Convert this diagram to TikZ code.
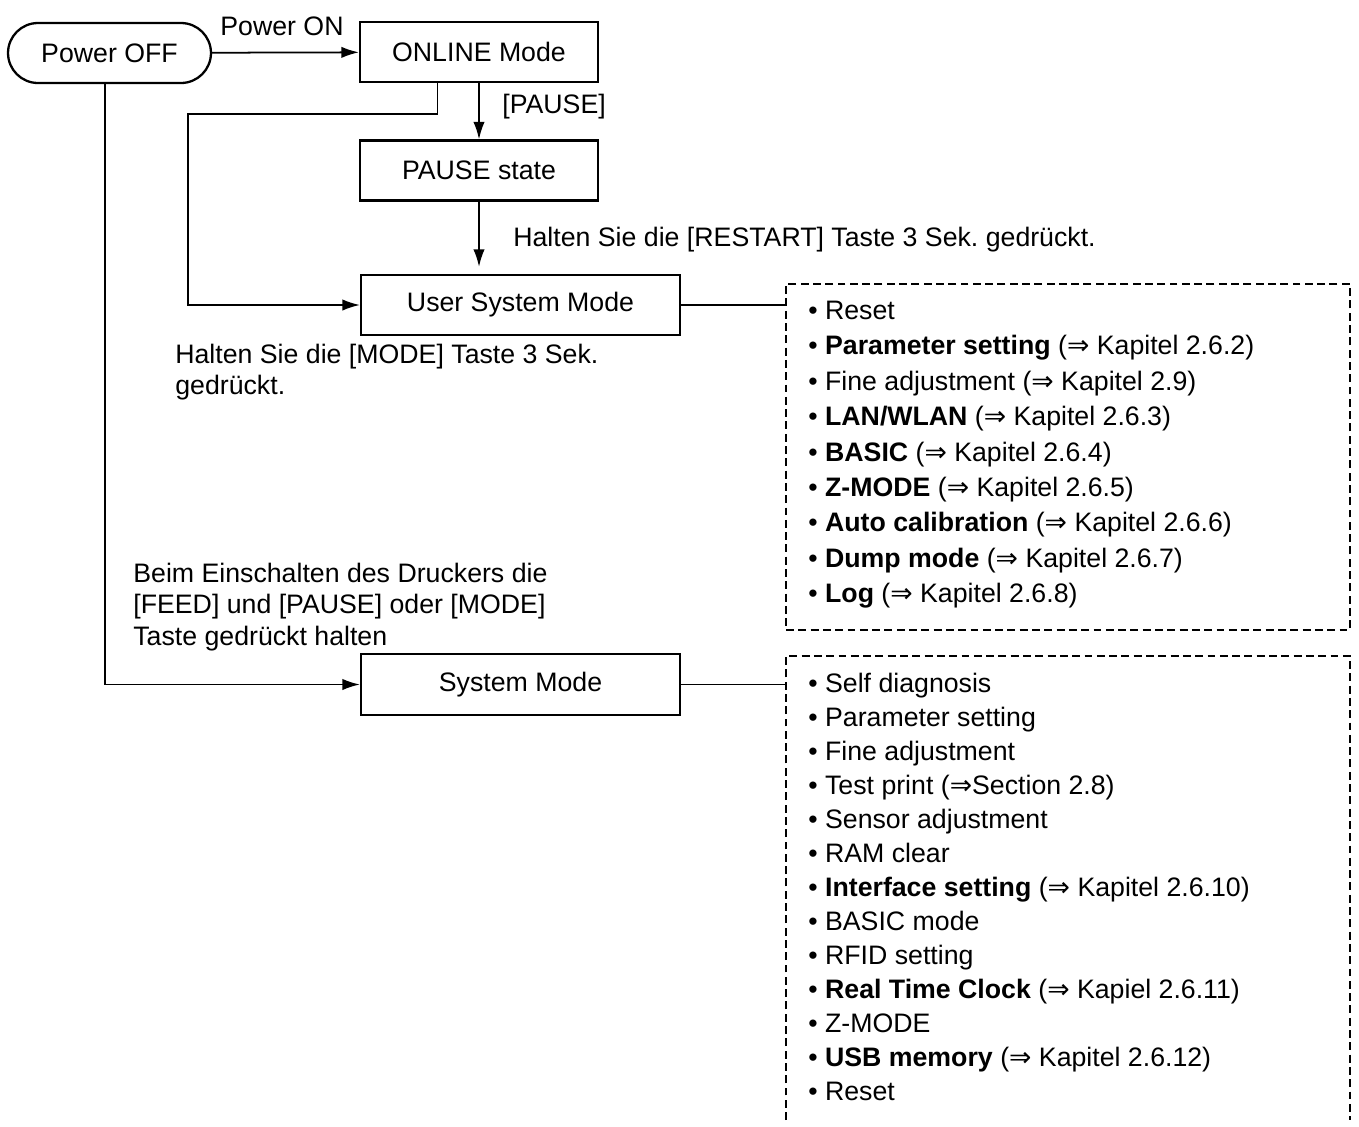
\documentclass[tikz,border=0pt]{standalone}
\usepackage{fontspec}
\setmainfont{Liberation Sans}
\newfontfamily\symfont{DejaVu Sans}
\newcommand{\imp}{{\symfont ⇒}}
\frenchspacing
\usepackage{tikz}
\usetikzlibrary{arrows.meta, positioning}

\begin{document}
\begin{tikzpicture}[
  x=0.02cm, y=-0.02cm,
  every node/.style={font=\fontsize{15.2}{18}\selectfont},
  modebox/.style={draw, line width=1.3pt, minimum height=1.2cm, inner sep=0pt},
  conn/.style={line width=1pt},
  arr/.style={conn, -{Latex[length=10pt, width=6.5pt]}},
  listbox/.style={draw, line width=0.9pt, dash pattern=on 4.5pt off 2.5pt},
  txt/.style={anchor=west, inner sep=0pt, align=left},
  entry/.style={anchor=base west, inner sep=0pt},
]
\useasboundingbox (0,0) rectangle (1359,1126);

% Mode boxes
\node[modebox, rounded corners=0.6cm, minimum width=4.06cm] (off) at (109.5,53) {Power OFF};
\node[modebox, minimum width=4.76cm] (online) at (479,52) {ONLINE Mode};
\node[modebox, minimum width=4.76cm] (pause) at (479,170.5) {PAUSE state};
\node[modebox, minimum width=6.38cm] (user) at (520.5,305) {User System Mode};
\node[modebox, minimum width=6.38cm, minimum height=1.22cm] (sys) at (520.5,684.5) {System Mode};

% Transitions
\draw[arr] (off) -- (online);
\draw[arr] (online) -- (pause);
\draw[arr, shorten >=4pt] (pause.south) -- (pause.south |- user.north);
\draw[arr] ([xshift=-0.83cm]online.south) |- (188,114) |- (user.west);
\draw[arr] ([xshift=-0.09cm]off.south) |- (sys.west);

% Key labels
\node[inner sep=0pt] (lon) at (282,26) {Power ON};
\node[txt] (lpause) at (502,107) {[PAUSE]};
\node[txt] (lrestart) at (513,240) {Halten Sie die [RESTART] Taste 3 Sek. gedr\"uckt.};
\node[txt] (lmode) at (175,372) {Halten Sie die [MODE] Taste 3 Sek.\\gedr\"uckt.};
\node[txt] (lfeed) at (133,607) {Beim Einschalten des Druckers die\\{[FEED]} und [PAUSE] oder [MODE]\\Taste gedr\"uckt halten};

% User system mode menu
\node[listbox, minimum width=11.28cm, minimum height=6.92cm] (udash) at (1068,457) {};
\draw[conn] (user.east) -- (user.east -| udash.west);
\foreach \item [count=\i] in {
  {Reset},
  {\textbf{Parameter setting} (\imp\ Kapitel 2.6.2)},
  {Fine adjustment (\imp\ Kapitel 2.9)},
  {\textbf{LAN/WLAN} (\imp\ Kapitel 2.6.3)},
  {\textbf{BASIC} (\imp\ Kapitel 2.6.4)},
  {\textbf{Z-MODE} (\imp\ Kapitel 2.6.5)},
  {\textbf{Auto calibration} (\imp\ Kapitel 2.6.6)},
  {\textbf{Dump mode} (\imp\ Kapitel 2.6.7)},
  {\textbf{Log} (\imp\ Kapitel 2.6.8)}}
  \node[entry] (u\i) at (808,{319.5+35.4*(\i-1)}) {\textbullet\ \item};

% System mode menu (open at the bottom)
\coordinate (sdash) at (786,686);
\draw[listbox] (786,1120) |- (1350,656) -- (1350,1120);
\draw[conn] (sys.east) -- (sys.east -| sdash);
\foreach \item [count=\i] in {
  {Self diagnosis},
  {Parameter setting},
  {Fine adjustment},
  {Test print (\imp Section 2.8)},
  {Sensor adjustment},
  {RAM clear},
  {\textbf{Interface setting} (\imp\ Kapitel 2.6.10)},
  {BASIC mode},
  {RFID setting},
  {\textbf{Real Time Clock} (\imp\ Kapiel 2.6.11)},
  {Z-MODE},
  {\textbf{USB memory} (\imp\ Kapitel 2.6.12)},
  {Reset}}
  \node[entry] (s\i) at (808,{692.5+34*(\i-1)}) {\textbullet\ \item};

\end{tikzpicture}
\end{document}
